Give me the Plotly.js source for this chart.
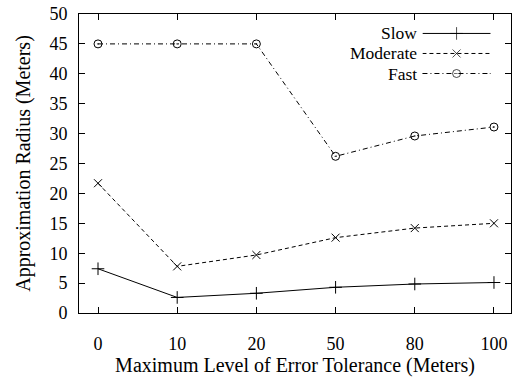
<!DOCTYPE html>
<html><head><meta charset="utf-8">
<script src="https://cdn.plot.ly/plotly-3.0.1.min.js"></script>
<style>body{margin:0}</style>
</head><body><div id="c"></div>
<script>
const categories = ["0", "10", "20", "50", "80", "100"];
const slow = [7.4, 2.6, 3.3, 4.3, 4.85, 5.1];
const moderate = [21.7, 7.8, 9.7, 12.6, 14.2, 15.0];
const fast = [45, 45, 45, 26.2, 29.6, 31.1];
const seriesNames = ["Slow", "Moderate", "Fast"];
const yTicks = [0, 5, 10, 15, 20, 25, 30, 35, 40, 45, 50];

const styles = [
  {dash: "solid", symbol: "cross-thin-open", size: 9},
  {dash: "4px,3px", symbol: "x-thin-open", size: 8},
  {dash: "5px,3px,1px,3px", symbol: "circle-open-dot", size: 8}
];
const seriesData = [slow, moderate, fast];
const font = "Liberation Serif";

const traces = seriesData.map((d, i) => ({
  x: categories, y: d, type: "scatter", mode: "lines+markers", name: seriesNames[i],
  line: {color: "#000", width: 1, dash: styles[i].dash},
  marker: {symbol: styles[i].symbol, size: styles[i].size, color: "#000", line: {color: "#000", width: 1}},
  showlegend: false
}));

// manual gnuplot-style legend (sample to the right of label)
const legY = [0.935, 0.868, 0.801];
seriesData.forEach((d, i) => {
  traces.push({
    x: [0, 0.5, 1], y: [legY[i], legY[i], legY[i]], xaxis: "x2", yaxis: "y2",
    type: "scatter", mode: "lines+markers", showlegend: false, hoverinfo: "skip",
    line: {color: "#000", width: 1, dash: styles[i].dash},
    marker: {symbol: styles[i].symbol, size: [0, styles[i].size, 0], color: "#000", line: {color: "#000", width: 1}}
  });
});

const annotations = seriesNames.map((n, i) => ({
  text: n, xref: "paper", yref: "paper", x: 0.786, y: legY[i], xanchor: "right", yanchor: "middle",
  showarrow: false, font: {family: font, size: 17.5, color: "#000"}
}));

const layout = {
  width: 512, height: 380,
  margin: {l: 79, r: 1, t: 14, b: 67},
  paper_bgcolor: "#fff", plot_bgcolor: "rgba(0,0,0,0)",
  font: {family: font, size: 18, color: "#000"},
  showlegend: false,
  xaxis: {
    type: "category", range: [-0.24, 5.215], showgrid: false, zeroline: false,
    showline: true, linecolor: "#000", linewidth: 1, mirror: "allticks",
    ticks: "inside", ticklen: 6, tickcolor: "#000", tickwidth: 1,
    tickfont: {family: font, size: 18, color: "#000"}, ticklabelstandoff: 14,
    title: {text: "Maximum Level of Error Tolerance (Meters)", font: {family: font, size: 20, color: "#000"}, standoff: 5}
  },
  yaxis: {
    range: [0, 50], tickvals: yTicks, ticktext: yTicks.map(String), showgrid: false, zeroline: false,
    showline: true, linecolor: "#000", linewidth: 1, mirror: "allticks",
    ticks: "inside", ticklen: 6, tickcolor: "#000", tickwidth: 1,
    tickfont: {family: font, size: 18, color: "#000"}, ticklabelstandoff: 7,
    title: {text: "Approximation Radius (Meters)", font: {family: font, size: 20, color: "#000"}, standoff: 13}
  },
  xaxis2: {domain: [0.795, 0.953], range: [0, 1], visible: false, anchor: "y2", fixedrange: true},
  yaxis2: {domain: [0, 1], range: [0, 1], visible: false, anchor: "x2", fixedrange: true},
  annotations: annotations
};
Plotly.newPlot("c", traces, layout, {displayModeBar: false});
</script></body></html>
